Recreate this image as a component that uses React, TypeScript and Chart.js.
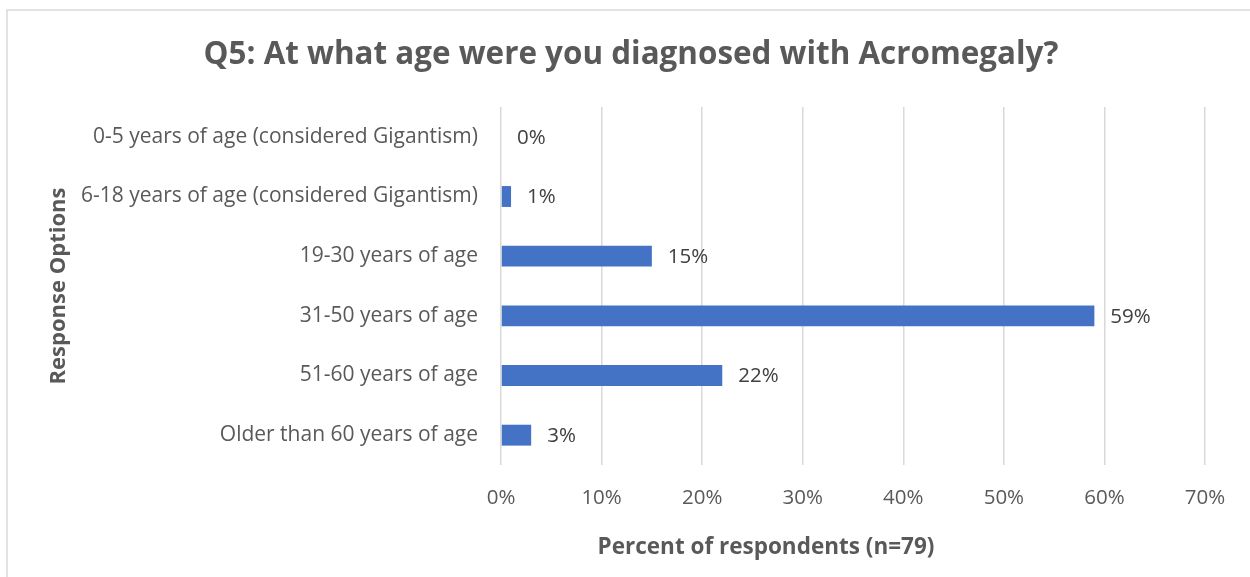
import React, { useEffect, useRef } from "react";
import { Chart, registerables } from "chart.js";

Chart.register(...registerables);

const chartTitle = "Q5: At what age were you diagnosed with Acromegaly?";
const xAxisTitle = "Percent of respondents (n=79)";
const yAxisTitle = "Response Options";
const categories = [
  "0-5 years of age (considered Gigantism)",
  "6-18 years of age (considered Gigantism)",
  "19-30 years of age",
  "31-50 years of age",
  "51-60 years of age",
  "Older than 60 years of age",
];
const percentValues = [0, 1, 15, 59, 22, 3];
const xTickMax = 70;
const xTickStep = 10;

const FONT = "'Open Sans', Lato, 'DejaVu Sans', sans-serif";
const TEXT = "#595959";

const bgBorderPlugin = {
  id: "bgBorder",
  beforeDraw(chart: any) {
    const { ctx, width, height } = chart;
    ctx.save();
    ctx.fillStyle = "#ffffff";
    ctx.fillRect(0, 0, width, height);
    ctx.strokeStyle = "#d9d9d9";
    ctx.lineWidth = 1.5;
    ctx.strokeRect(7, 10, width + 20, height + 20);
    ctx.restore();
  },
};

const textPlugin = {
  id: "texts",
  afterDraw(chart: any) {
    const { ctx } = chart;
    ctx.save();
    ctx.fillStyle = TEXT;
    ctx.textAlign = "center";
    ctx.textBaseline = "middle";
    ctx.font = `bold 31.4px ${FONT}`;
    ctx.fillText(chartTitle, 631, 55);
    ctx.font = `bold 22.5px ${FONT}`;
    ctx.fillText(xAxisTitle, 766, 548);
    ctx.restore();
  },
};

const dataLabelPlugin = {
  id: "dataLabels",
  afterDatasetsDraw(chart: any) {
    const { ctx } = chart;
    const meta = chart.getDatasetMeta(0);
    const data = chart.data.datasets[0].data as number[];
    ctx.save();
    ctx.font = `20.5px ${FONT}`;
    ctx.fillStyle = "#404040";
    ctx.textAlign = "left";
    ctx.textBaseline = "middle";
    meta.data.forEach((bar: any, i: number) => {
      ctx.fillText(`${data[i]}%`, bar.x + 16, bar.y + 1);
    });
    ctx.restore();
  },
};

export default function App() {
  const ref = useRef<HTMLCanvasElement>(null);
  useEffect(() => {
    if (!ref.current) return;
    const chart = new Chart(ref.current, {
      type: "bar",
      data: {
        labels: categories,
        datasets: [
          {
            data: percentValues,
            backgroundColor: "#4472C4",
            barPercentage: 0.35,
            categoryPercentage: 1,
          },
        ],
      },
      options: {
        indexAxis: "y",
        animation: false,
        responsive: false,
        layout: { padding: { left: 40, right: 45, top: 107, bottom: 0 } },
        plugins: {
          legend: { display: false },
          tooltip: { enabled: false },
          title: { display: false },
        },
        scales: {
          x: {
            min: 0,
            max: xTickMax,
            ticks: {
              stepSize: xTickStep,
              color: TEXT,
              font: { family: FONT, size: 20.5 },
              padding: 21,
              callback: (v: any) => `${v}%`,
            },
            grid: { color: "#d9d9d9", lineWidth: 1.5, drawTicks: false },
            border: { display: false },
            afterFit: (scale: any) => {
              scale.height = 112;
            },
          },
          y: {
            ticks: {
              color: TEXT,
              font: { family: FONT, size: 21 },
              padding: 23,
            },
            grid: { display: false, drawTicks: false },
            border: { display: false },
            title: {
              display: true,
              text: yAxisTitle,
              color: TEXT,
              font: { family: FONT, size: 22, weight: "bold" },
              padding: { top: 6, bottom: 0 },
            },
            afterFit: (scale: any) => {
              scale.width = 501 - 40;
            },
          },
        },
      },
      plugins: [bgBorderPlugin, dataLabelPlugin, textPlugin],
    });
    return () => chart.destroy();
  }, []);
  return (
    <div style={{ position: "absolute", left: 0, top: 0, width: 1250, height: 577 }}>
      <canvas ref={ref} width={1250} height={577} />
    </div>
  );
}
